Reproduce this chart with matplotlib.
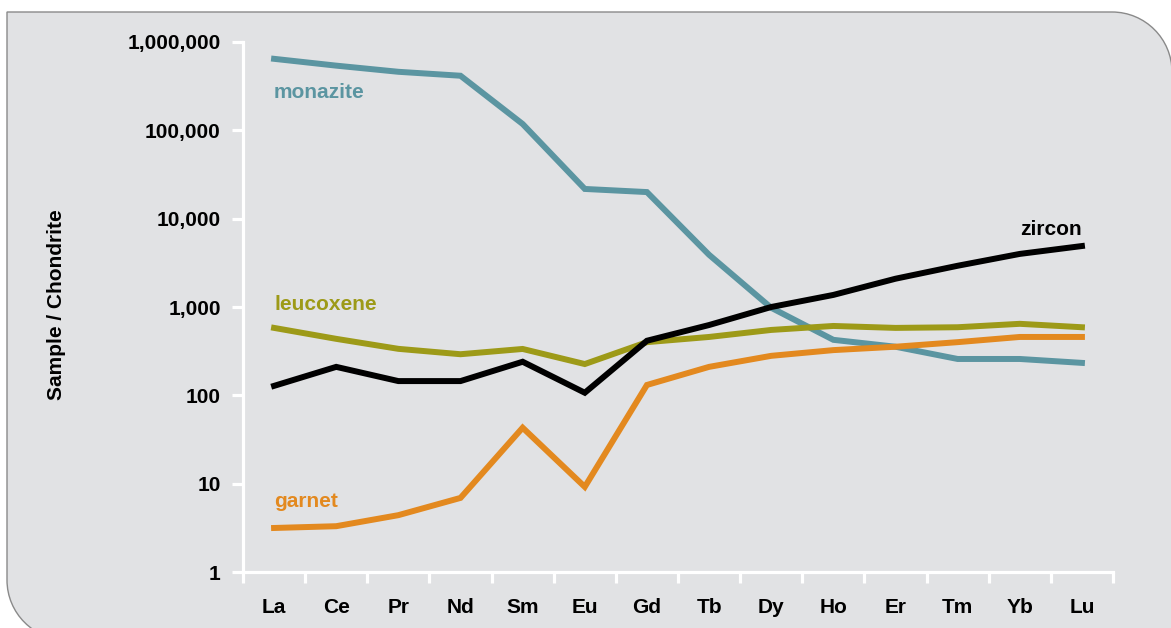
import matplotlib
matplotlib.use("Agg")
import matplotlib.pyplot as plt
from matplotlib.path import Path
from matplotlib.patches import PathPatch
from matplotlib.ticker import FuncFormatter, FixedLocator
import numpy as np

elements = ['La', 'Ce', 'Pr', 'Nd', 'Sm', 'Eu', 'Gd', 'Tb', 'Dy', 'Ho', 'Er', 'Tm', 'Yb', 'Lu']

monazite = [645000, 540000, 460000, 415000, 118000, 21700, 20000, 3900, 980, 425, 355, 258, 258, 233]
zircon = [128, 210, 145, 145, 240, 107, 415, 625, 1000, 1370, 2090, 2930, 3990, 4900]
leucoxene = [580, 436, 336, 292, 335, 226, 400, 458, 550, 610, 580, 590, 645, 590]
garnet = [3.15, 3.3, 4.4, 6.9, 43, 9.2, 131, 210, 280, 325, 355, 400, 458, 458]

yticks = [1, 10, 100, 1000, 10000, 100000, 1000000]

plt.rcParams['font.family'] = ['Liberation Sans', 'DejaVu Sans']
plt.rcParams['font.weight'] = 'bold'

W, H = 1171, 628
fig = plt.figure(figsize=(W / 100, H / 100), dpi=100)
fig.patch.set_facecolor('white')

# rounded panel behind the chart (pixel coords -> figure fraction)
k = 0.5523
r = 60
x0, y0, x1, y1 = 7, 12, 1172, 640
pts = [
    ((x0, y0), Path.MOVETO),
    ((x1 - r, y0), Path.LINETO),
    ((x1 - r + r * k, y0), Path.CURVE4),
    ((x1, y0 + r - r * k), Path.CURVE4),
    ((x1, y0 + r), Path.CURVE4),
    ((x1, y1), Path.LINETO),
    ((x0 + r, y1), Path.LINETO),
    ((x0 + r - r * k, y1), Path.CURVE4),
    ((x0, y1 - r + r * k), Path.CURVE4),
    ((x0, y1 - r), Path.CURVE4),
    ((x0, y0), Path.CLOSEPOLY),
]
verts = [(p[0] / W, 1 - p[1] / H) for p, _ in pts]
codes = [c for _, c in pts]
panel = PathPatch(Path(verts, codes), transform=fig.transFigure,
                  facecolor='#e1e2e4', edgecolor='#8a8a8a', linewidth=1.0, zorder=-5)
fig.patches.append(panel)

ax = fig.add_axes([243 / W, 1 - 572 / H, (1113 - 243) / W, (572 - 42) / H])
ax.set_facecolor('none')
ax.set_zorder(2)

x = np.arange(len(elements))
ax.plot(x, monazite, color='#5b95a1', lw=4.3, solid_joinstyle='miter')
ax.plot(x, leucoxene, color='#9d9a18', lw=4.3, solid_joinstyle='miter')
ax.plot(x, garnet, color='#e3891f', lw=4.3, solid_joinstyle='miter')
ax.plot(x, zircon, color='black', lw=4.3, solid_joinstyle='miter')

ax.set_yscale('log')
ax.set_ylim(1, 1e6)
ax.set_xlim(-0.5, len(elements) - 0.5)

ax.yaxis.set_major_locator(FixedLocator(yticks))
ax.yaxis.set_minor_locator(FixedLocator([]))
ax.yaxis.set_major_formatter(FuncFormatter(lambda v, p: f'{int(v):,}'))

ax.xaxis.set_major_locator(FixedLocator(np.arange(-0.5, len(elements), 1.0)))
ax.xaxis.set_major_formatter(FuncFormatter(lambda v, p: ''))
ax.set_xticks(x, minor=True)
ax.set_xticklabels(elements, minor=True)

for s in ['top', 'right']:
    ax.spines[s].set_visible(False)
for s in ['left', 'bottom']:
    ax.spines[s].set_color('white')
    ax.spines[s].set_linewidth(2.3)

ax.tick_params(axis='y', which='major', direction='out', length=8, width=2.3,
               color='white', labelsize=15, pad=8)
ax.tick_params(axis='x', which='major', direction='out', length=8, width=2.3,
               color='white')
ax.tick_params(axis='x', which='minor', length=0, labelsize=15, pad=19)

fig.text(57 / W, 1 - 305 / H, 'Sample / Chondrite', fontsize=15, fontweight='bold',
         rotation=90, ha='center', va='center')

ax.text(0, 2.33e5, 'monazite', color='#5b95a1', fontsize=15, fontweight='bold',
        ha='left', va='baseline')
ax.text(0, 930, 'leucoxene', color='#9d9a18', fontsize=15, fontweight='bold',
        ha='left', va='baseline')
ax.text(0, 5.45, 'garnet', color='#e3891f', fontsize=15, fontweight='bold',
        ha='left', va='baseline')
ax.text(len(elements) - 1, 6.5e3, 'zircon', color='black', fontsize=15,
        fontweight='bold', ha='right', va='baseline')

fig.savefig('out.png', dpi=100)
